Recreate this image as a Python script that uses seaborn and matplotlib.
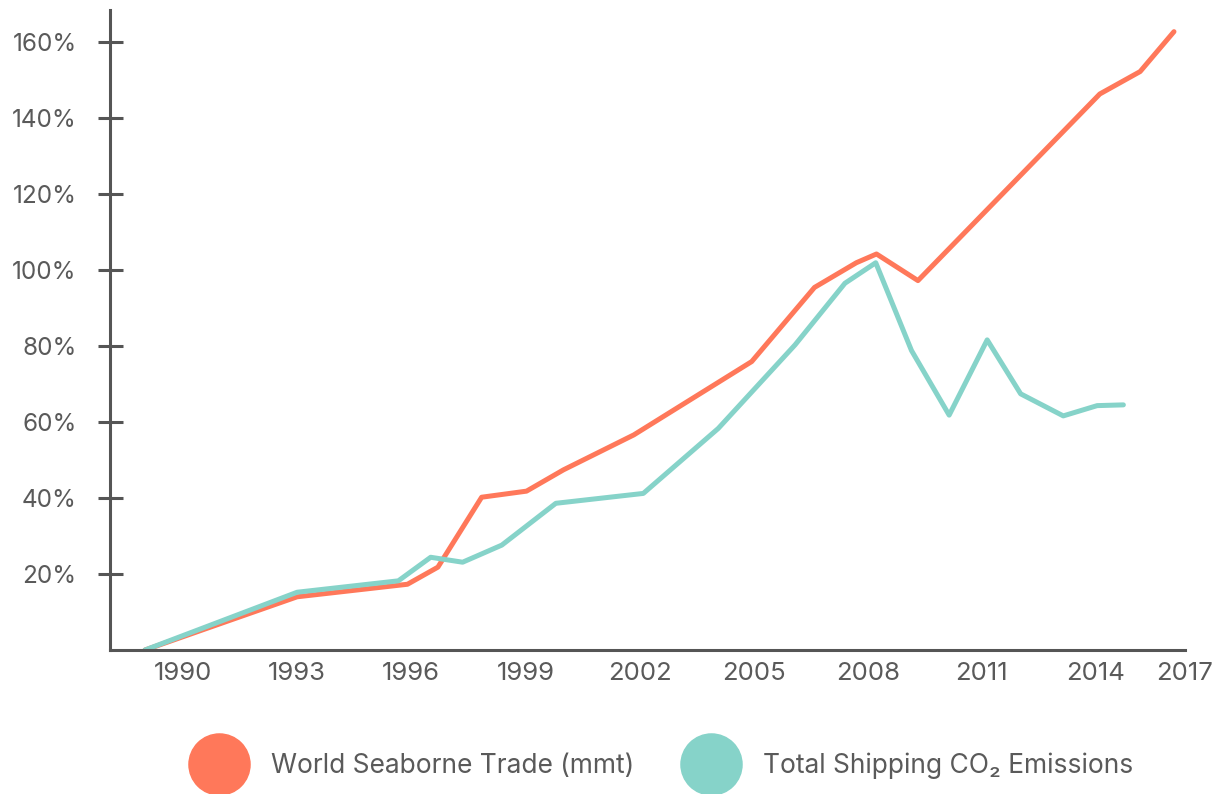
import matplotlib
matplotlib.use("Agg")
import matplotlib.pyplot as plt
from matplotlib.lines import Line2D
import seaborn as sns
import pandas as pd

# ---- data ----
trade_years = [1989.0, 1993.0, 1995.9, 1996.7, 1997.85, 1999.03, 2000.0, 2001.85,
               2004.95, 2006.6, 2007.7, 2008.23, 2009.32, 2014.1, 2015.16, 2016.05]
trade_pct = [0.0, 14.0, 17.3, 21.8, 40.2, 41.8, 47.4, 56.6,
             75.9, 95.4, 101.9, 104.2, 97.2, 146.3, 152.2, 162.7]

co2_years = [1989.0, 1993.0, 1995.66, 1996.51, 1997.35, 1998.38, 1999.8, 2002.1,
             2004.07, 2006.09, 2007.4, 2008.21, 2009.15, 2010.14, 2011.14, 2012.02,
             2013.14, 2014.03, 2014.72]
co2_pct = [0.0, 15.2, 18.2, 24.4, 23.1, 27.6, 38.6, 41.2,
           58.3, 80.3, 96.5, 101.9, 78.8, 61.8, 81.6, 67.4,
           61.6, 64.3, 64.5]

series_names = ["World Seaborne Trade (mmt)", "Total Shipping CO\u2082 Emissions"]
series_colors = ["#FF785A", "#86D3C9"]

x_tick_years = [1990, 1993, 1996, 1999, 2002, 2005, 2008, 2011, 2014, 2017]
y_ticks = [20, 40, 60, 80, 100, 120, 140, 160]

df = pd.concat([
    pd.DataFrame({"year": trade_years, "pct": trade_pct, "series": series_names[0]}),
    pd.DataFrame({"year": co2_years, "pct": co2_pct, "series": series_names[1]}),
], ignore_index=True)

# ---- styling ----
sns.set_theme(style="white")
plt.rcParams["font.family"] = ["Inter", "DejaVu Sans"]
plt.rcParams["font.weight"] = "normal"
text_color = "#5a5a5a"
axis_color = "#555555"

fig = plt.figure(figsize=(12.17, 7.94), dpi=100)
ax = fig.add_axes([110 / 1217, 144 / 794, (1185 - 110) / 1217, (784 - 144) / 794])

sns.lineplot(data=df, x="year", y="pct", hue="series", hue_order=series_names,
             palette=series_colors, sort=False, estimator=None, linewidth=3.6,
             ax=ax, legend=False, solid_capstyle="round")

xmin, xmax = 1988.08, 2016.34
ax.set_xlim(xmin, xmax)
ax.set_ylim(0, 168.4)

ax.set_xticks([min(y, xmax) for y in x_tick_years])
ax.set_xticklabels([str(y) for y in x_tick_years])
ax.set_yticks(y_ticks)
ax.set_yticklabels([f"{v}%" for v in y_ticks])

ax.tick_params(axis="x", length=0, pad=9, labelsize=18.5, labelcolor=text_color)
ax.tick_params(axis="y", direction="inout", length=18, width=2.2, color=axis_color,
               pad=15, labelsize=17.5, labelcolor=text_color, left=True)

for side in ["top", "right"]:
    ax.spines[side].set_visible(False)
for side in ["left", "bottom"]:
    ax.spines[side].set_color(axis_color)
    ax.spines[side].set_linewidth(2.2)
ax.set_xlabel("")
ax.set_ylabel("")
ax.grid(False)

handles = [Line2D([], [], linestyle="none", marker="o", markersize=44,
                  markerfacecolor=c, markeredgecolor=c) for c in series_colors]
leg = fig.legend(handles, series_names, loc="center", ncol=2,
                 bbox_to_anchor=(0.5445, 0.035), frameon=False, fontsize=19,
                 handlelength=2.0, handletextpad=0.97, columnspacing=1.9,
                 labelcolor=text_color)

fig.savefig("out.png", dpi=100)
